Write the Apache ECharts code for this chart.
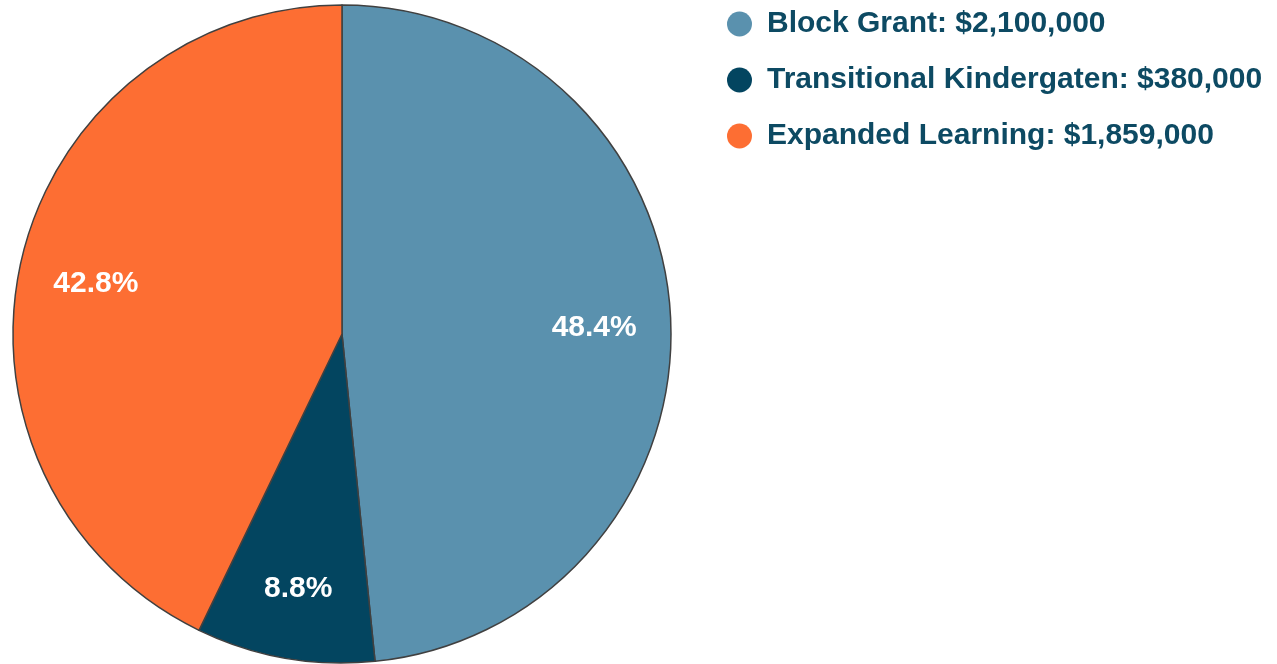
<!DOCTYPE html>
<html>
<head>
<meta charset="utf-8">
<script src="https://cdn.jsdelivr.net/npm/echarts@6/dist/echarts.min.js"></script>
<style>
	html, body { margin: 0; padding: 0; background: #fff; }
	#main { width: 1277px; height: 664px; }
</style>
</head>
<body>
<div id="main"></div>
<script>
// 数据
var names = ['Block Grant', 'Transitional Kindergaten', 'Expanded Learning'];
var amounts = [2100000, 380000, 1859000];
var colors = ['#5a91ae', '#034560', '#fd6e33'];

var total = 0;
for (var i = 0; i < amounts.length; i++) {
	total += amounts[i];
}

var pieData = [];
for (var i = 0; i < names.length; i++) {
	pieData.push({ name: names[i], value: amounts[i] });
}

var chart = echarts.init(document.getElementById('main'));

var option = {
	animation: false,
	color: colors,
	legend: {
		orient: 'vertical',
		left: 722,
		top: 4,
		itemWidth: 25,
		itemHeight: 25,
		itemGap: 26,
		icon: 'circle',
		data: names,
		itemStyle: { borderWidth: 0 },
		formatter: function(name) {
			var idx = names.indexOf(name);
			return name + ': $' + amounts[idx].toLocaleString('en-US');
		},
		textStyle: {
			fontFamily: 'Liberation Sans, Arial, sans-serif',
			fontWeight: 'bold',
			fontSize: 30,
			lineHeight: 30,
			color: '#0d4a63',
			padding: [0, 0, 0, 10]
		}
	},
	series: [{
		// 扇区
		name: 'budget',
		type: 'pie',
		center: [342, 334],
		radius: [0, 329],
		startAngle: 90,
		clockwise: true,
		silent: true,
		itemStyle: {
			borderColor: '#404040',
			borderWidth: 1.5
		},
		label: { show: false },
		labelLine: { show: false },
		data: pieData
	}, {
		// 百分比标签（透明层）
		name: 'labels',
		type: 'pie',
		center: [342, 334],
		radius: [170, 329],
		startAngle: 90,
		clockwise: true,
		silent: true,
		itemStyle: { color: 'rgba(0,0,0,0)', borderWidth: 0 },
		label: {
			show: true,
			position: 'inside',
			offset: [0, 6],
			fontFamily: 'Liberation Sans, Arial, sans-serif',
			fontWeight: 'bold',
			fontSize: 30,
			color: '#ffffff',
			formatter: function(p) {
				return (p.value / total * 100).toFixed(1) + '%';
			}
		},
		labelLine: { show: false },
		data: pieData
	}]
};

chart.setOption(option);
</script>
</body>
</html>
